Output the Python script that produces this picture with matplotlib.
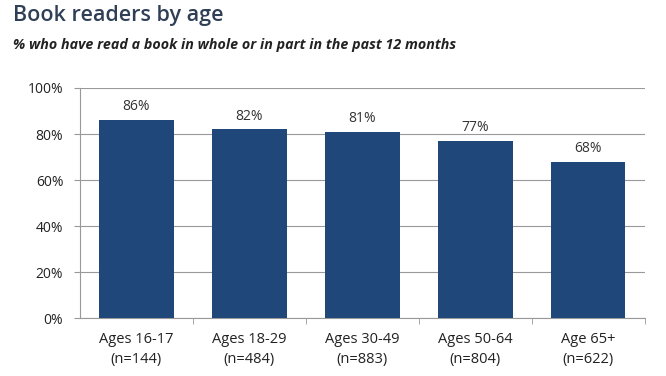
import matplotlib.pyplot as plt
from matplotlib.ticker import FuncFormatter

plt.rcParams['font.family'] = ['Open Sans', 'DejaVu Sans']

groups = ['Ages 16-17\n(n=144)', 'Ages 18-29\n(n=484)', 'Ages 30-49\n(n=883)',
          'Ages 50-64\n(n=804)', 'Age 65+\n(n=622)']
readers = [86, 82, 81, 77, 68]

fig = plt.figure(figsize=(6.66, 3.76), dpi=100)
ax = fig.add_axes([0.120, 0.154, 0.848, 0.612])

x = range(len(groups))
bars = ax.bar(x, readers, width=0.66, color='#1f477a', zorder=3)
for i, v in zip(x, readers):
    ax.text(i, v + 2.5, f'{v}%', ha='center', va='bottom', fontsize=10, color='#333333')

ax.set_xlim(-0.5, len(groups) - 0.5)
ax.set_ylim(0, 100)
ax.set_yticks([0, 20, 40, 60, 80, 100])
ax.yaxis.set_major_formatter(FuncFormatter(lambda v, p: f'{v:.0f}%'))
ax.set_xticks(list(x))
ax.set_xticklabels(groups, fontsize=10.5, color='#222222', linespacing=1.45)
ax.set_xticks([i + 0.5 for i in x], minor=True)
ax.tick_params(axis='x', which='major', length=0, pad=10)
ax.tick_params(axis='x', which='minor', length=4, color='#999999', direction='out')
ax.tick_params(axis='y', length=4, color='#999999', labelsize=10, labelcolor='#222222', pad=8)
ax.grid(axis='y', color='#999999', linewidth=0.8, zorder=0)
for s in ['top', 'right']:
    ax.spines[s].set_visible(False)
for s in ['left', 'bottom']:
    ax.spines[s].set_color('#999999')

fig.text(0.019, 0.958, 'Book readers by age', fontsize=15.5, weight='semibold',
         color='#2f3f55', va='center')
fig.text(0.019, 0.880, '% who have read a book in whole or in part in the past 12 months',
         fontsize=10.3, style='italic', weight='bold', color='#222222', va='center')

fig.savefig('out.png', dpi=100)
